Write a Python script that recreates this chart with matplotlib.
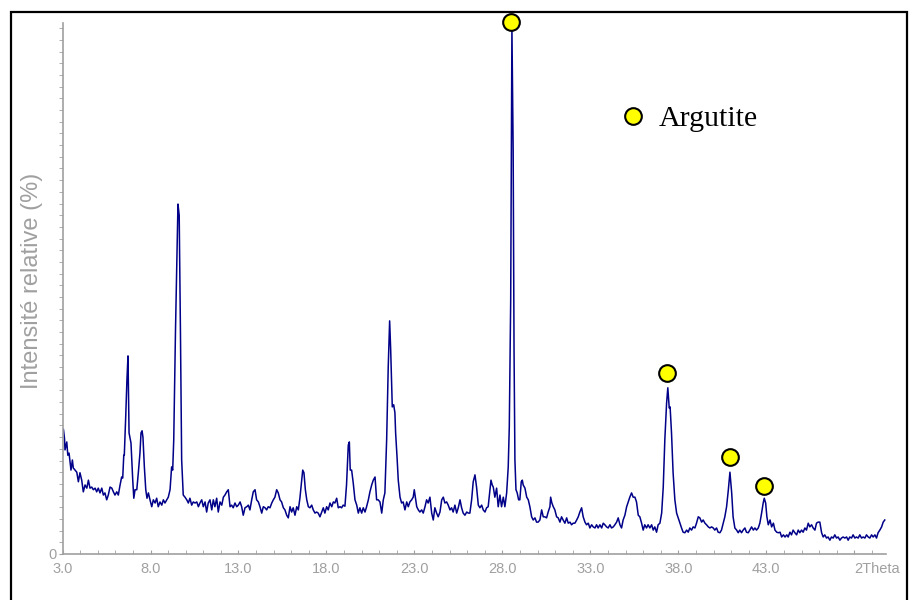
import numpy as np
import matplotlib
matplotlib.use("Agg")
import matplotlib.pyplot as plt
from matplotlib.lines import Line2D
from matplotlib.patches import Rectangle
from matplotlib.ticker import MultipleLocator

# diffractogram: 2theta (deg) / relative intensity (%)
two_theta = [
    3.00, 3.05, 3.11, 3.14, 3.24, 3.30, 3.37, 3.48, 3.56, 3.61, 3.71, 3.81, 3.90, 3.99, 4.09, 4.18,
    4.28, 4.38, 4.47, 4.56, 4.66, 4.75, 4.85, 4.94, 5.03, 5.13, 5.23, 5.32, 5.41, 5.51, 5.60, 5.70,
    5.80, 5.89, 5.98, 6.08, 6.17, 6.27, 6.36, 6.42, 6.48, 6.51, 6.59, 6.66, 6.72, 6.78, 6.89, 6.99,
    7.05, 7.12, 7.22, 7.31, 7.40, 7.46, 7.52, 7.57, 7.65, 7.73, 7.80, 7.88, 7.97, 8.07, 8.16, 8.26,
    8.35, 8.44, 8.54, 8.64, 8.73, 8.82, 8.92, 9.01, 9.11, 9.20, 9.26, 9.32, 9.42, 9.56, 9.63, 9.70,
    9.77, 9.86, 9.96, 10.06, 10.15, 10.24, 10.34, 10.43, 10.53, 10.63, 10.72, 10.81, 10.91, 11.00,
    11.10, 11.19, 11.28, 11.38, 11.48, 11.57, 11.66, 11.76, 11.85, 11.95, 12.05, 12.14, 12.23, 12.33,
    12.42, 12.52, 12.61, 12.70, 12.80, 12.90, 12.99, 13.09, 13.18, 13.27, 13.37, 13.47, 13.56, 13.65,
    13.75, 13.84, 13.94, 14.03, 14.13, 14.22, 14.32, 14.41, 14.51, 14.60, 14.69, 14.79, 14.89, 14.98,
    15.07, 15.17, 15.26, 15.36, 15.45, 15.55, 15.64, 15.74, 15.83, 15.93, 16.02, 16.11, 16.21, 16.31,
    16.40, 16.49, 16.59, 16.65, 16.72, 16.80, 16.88, 16.97, 17.06, 17.16, 17.25, 17.35, 17.44, 17.53,
    17.63, 17.73, 17.82, 17.91, 18.01, 18.10, 18.20, 18.30, 18.39, 18.48, 18.58, 18.67, 18.77, 18.86,
    18.95, 19.05, 19.14, 19.24, 19.30, 19.35, 19.43, 19.52, 19.62, 19.72, 19.81, 19.90, 20.00, 20.09,
    20.19, 20.28, 20.38, 20.47, 20.57, 20.66, 20.76, 20.85, 20.94, 21.04, 21.14, 21.23, 21.32, 21.42,
    21.51, 21.59, 21.65, 21.74, 21.82, 21.89, 21.93, 22.01, 22.08, 22.18, 22.27, 22.36, 22.46, 22.56,
    22.65, 22.74, 22.84, 22.93, 22.99, 23.07, 23.13, 23.22, 23.31, 23.41, 23.50, 23.60, 23.69, 23.78,
    23.88, 23.98, 24.07, 24.16, 24.26, 24.35, 24.45, 24.55, 24.64, 24.73, 24.83, 24.92, 25.02, 25.11,
    25.20, 25.30, 25.40, 25.49, 25.59, 25.68, 25.77, 25.87, 25.97, 26.06, 26.15, 26.25, 26.34, 26.44,
    26.53, 26.63, 26.72, 26.82, 26.91, 27.01, 27.10, 27.19, 27.29, 27.35, 27.42, 27.48, 27.57, 27.67,
    27.76, 27.86, 27.95, 28.05, 28.14, 28.24, 28.33, 28.39, 28.47, 28.54, 28.61, 28.66, 28.71, 28.77,
    28.84, 28.92, 28.99, 29.07, 29.13, 29.18, 29.28, 29.38, 29.47, 29.56, 29.66, 29.75, 29.85, 29.94,
    30.03, 30.13, 30.23, 30.32, 30.41, 30.51, 30.60, 30.70, 30.74, 30.81, 30.89, 30.98, 31.08, 31.17,
    31.27, 31.36, 31.45, 31.55, 31.65, 31.74, 31.84, 31.93, 32.02, 32.12, 32.22, 32.31, 32.40, 32.50,
    32.59, 32.69, 32.78, 32.88, 32.97, 33.07, 33.16, 33.26, 33.35, 33.44, 33.54, 33.64, 33.73, 33.82,
    33.92, 34.01, 34.11, 34.20, 34.30, 34.39, 34.49, 34.58, 34.68, 34.77, 34.86, 34.96, 35.06, 35.15,
    35.24, 35.34, 35.43, 35.53, 35.62, 35.72, 35.81, 35.91, 36.00, 36.09, 36.19, 36.28, 36.38, 36.48,
    36.57, 36.66, 36.76, 36.85, 36.95, 37.05, 37.14, 37.23, 37.33, 37.40, 37.48, 37.53, 37.61, 37.70,
    37.80, 37.90, 37.99, 38.09, 38.18, 38.27, 38.37, 38.47, 38.56, 38.65, 38.75, 38.84, 38.94, 39.03,
    39.13, 39.22, 39.32, 39.41, 39.51, 39.60, 39.70, 39.79, 39.89, 39.98, 40.07, 40.17, 40.26, 40.36,
    40.45, 40.55, 40.64, 40.74, 40.84, 40.93, 41.03, 41.11, 41.21, 41.31, 41.40, 41.49, 41.59, 41.68,
    41.78, 41.87, 41.97, 42.06, 42.16, 42.26, 42.35, 42.44, 42.54, 42.63, 42.73, 42.82, 42.88, 42.96,
    43.03, 43.11, 43.21, 43.30, 43.40, 43.49, 43.59, 43.68, 43.78, 43.87, 43.97, 44.06, 44.16, 44.24,
    44.34, 44.43, 44.52, 44.62, 44.72, 44.81, 44.90, 45.00, 45.09, 45.19, 45.28, 45.38, 45.47, 45.57,
    45.66, 45.76, 45.85, 45.94, 46.04, 46.14, 46.23, 46.32, 46.42, 46.51, 46.61, 46.70, 46.80, 46.89,
    46.99, 47.08, 47.18, 47.27, 47.36, 47.46, 47.56, 47.65, 47.74, 47.84, 47.93, 48.03, 48.12, 48.22,
    48.31, 48.41, 48.50, 48.60, 48.69, 48.79, 48.88, 48.98, 49.07, 49.17, 49.26, 49.35, 49.45, 49.55,
    49.64, 49.73,
]
intensity = [
    23.4, 23.5, 21.8, 19.6, 21.1, 18.6, 19.0, 15.8, 17.7, 16.2, 15.8, 15.4, 13.6, 15.3, 13.9, 11.7,
    13.0, 12.4, 13.9, 12.4, 12.6, 12.1, 12.4, 11.7, 12.4, 11.5, 12.4, 11.1, 11.5, 10.2, 11.1, 12.6,
    12.4, 11.7, 11.1, 11.7, 11.1, 13.0, 14.5, 14.3, 18.6, 18.6, 25.8, 32.8, 37.3, 22.8, 20.9, 13.9,
    10.5, 12.1, 12.1, 15.4, 19.0, 22.8, 23.2, 22.0, 16.4, 12.1, 10.5, 11.5, 10.2, 8.9, 10.2, 9.6,
    10.5, 8.9, 9.8, 9.2, 10.2, 9.6, 10.2, 10.7, 12.1, 16.4, 15.8, 21.5, 42.2, 65.9, 63.8, 42.2,
    17.7, 11.1, 10.7, 10.2, 9.6, 10.5, 9.2, 9.8, 9.6, 9.8, 8.9, 9.6, 10.2, 8.9,
    9.8, 7.9, 9.6, 10.2, 8.3, 10.2, 8.9, 10.5, 7.9, 9.8, 9.2, 10.7, 11.1, 11.7,
    12.1, 8.9, 9.2, 8.7, 9.6, 8.9, 9.2, 9.8, 8.9, 7.3, 8.7, 8.9, 9.2, 8.3,
    10.2, 11.7, 12.1, 10.2, 9.8, 8.9, 7.7, 8.9, 8.7, 8.3, 8.9, 8.7, 9.6, 10.2,
    10.7, 12.1, 11.5, 10.2, 9.8, 8.7, 8.3, 7.3, 6.8, 8.9, 7.9, 8.7, 7.3, 8.9,
    8.3, 10.5, 13.9, 15.8, 15.3, 12.1, 10.2, 8.9, 8.7, 9.2, 8.3, 7.7, 7.9, 7.7,
    7.0, 7.9, 8.7, 7.7, 8.9, 8.3, 9.6, 8.9, 9.8, 9.6, 10.5, 8.7, 8.9, 8.7,
    9.2, 9.0, 13.0, 20.5, 21.1, 15.8, 15.8, 13.4, 10.2, 9.2, 7.7, 8.7, 7.7, 8.7,
    7.9, 8.9, 10.2, 11.7, 13.0, 13.9, 14.5, 10.2, 10.2, 9.8, 7.7, 10.2, 11.5, 21.5,
    35.2, 43.9, 38.4, 27.7, 28.1, 26.6, 22.8, 18.3, 13.9, 10.7, 9.6, 9.8, 8.3, 9.8,
    8.9, 9.8, 10.2, 10.7, 12.1, 10.2, 8.9, 8.3, 7.9, 8.3, 7.7, 8.9, 10.2, 9.6,
    10.7, 7.7, 6.4, 8.7, 7.7, 7.0, 7.9, 10.2, 10.7, 9.6, 9.8, 9.2, 8.3, 8.7,
    7.9, 9.2, 7.7, 8.7, 10.2, 8.7, 7.7, 7.3, 7.9, 7.7, 7.7, 10.2, 13.6, 14.9,
    12.6, 9.2, 8.7, 9.2, 8.3, 7.9, 8.7, 8.9, 12.1, 13.9, 13.0, 12.6, 10.7, 12.4,
    8.9, 11.1, 8.9, 10.7, 8.9, 11.5, 16.4, 23.9, 47.8, 99.1, 76.1, 38.4, 17.7, 12.1,
    11.5, 10.2, 10.2, 13.6, 13.9, 13.0, 12.4, 10.7, 10.2, 8.9, 7.0, 6.4, 6.8, 6.0,
    6.0, 6.4, 8.3, 7.0, 7.0, 6.8, 7.9, 8.9, 10.7, 9.6, 8.9, 8.3, 7.0, 6.8,
    6.0, 7.0, 6.4, 5.8, 6.8, 5.8, 6.0, 5.5, 5.8, 5.8, 6.4, 7.0, 7.9, 8.7,
    7.0, 6.0, 5.5, 5.8, 4.9, 5.5, 5.1, 4.9, 5.5, 4.9, 5.5, 4.9, 5.8, 5.5,
    5.1, 4.9, 5.5, 4.9, 5.1, 5.5, 6.0, 6.8, 5.5, 4.9, 6.4, 7.3, 8.9, 9.8,
    10.7, 11.5, 10.7, 10.7, 9.8, 7.3, 7.0, 5.8, 4.5, 5.5, 4.9, 5.5, 4.9, 5.5,
    4.5, 5.1, 4.1, 5.5, 5.8, 7.7, 12.6, 21.5, 28.4, 31.3, 27.5, 27.7, 22.8, 15.3,
    10.2, 7.7, 6.8, 5.8, 4.9, 4.1, 4.0, 4.5, 4.1, 4.9, 4.5, 5.1, 4.9, 5.8,
    7.0, 6.8, 6.0, 6.4, 5.8, 5.5, 5.1, 4.9, 5.1, 4.9, 4.5, 4.9, 4.1, 4.0,
    4.5, 5.8, 7.0, 8.9, 12.1, 15.4, 11.5, 7.0, 4.9, 4.5, 4.0, 4.5, 4.0, 4.5,
    4.9, 4.1, 4.0, 4.5, 5.1, 4.5, 4.9, 4.5, 4.9, 5.8, 7.7, 9.6, 10.5, 9.6,
    7.0, 5.5, 6.4, 5.1, 5.8, 4.5, 4.1, 4.0, 4.1, 3.2, 3.6, 3.2, 3.6, 3.2,
    4.1, 3.6, 4.5, 4.0, 3.6, 4.5, 4.0, 4.5, 4.1, 4.9, 4.5, 5.8, 5.1, 5.5,
    4.9, 4.5, 5.8, 6.0, 6.0, 4.0, 3.2, 3.6, 3.0, 3.2, 2.6, 3.2, 3.0, 3.6,
    3.0, 3.2, 2.6, 3.0, 3.2, 3.0, 3.2, 2.6, 3.2, 3.0, 3.6, 3.0, 3.2, 3.0,
    3.6, 3.0, 3.2, 3.0, 3.6, 3.2, 3.0, 3.6, 3.2, 3.6, 3.0, 4.0, 4.5, 5.1,
    6.0, 6.4,
]

# argutite reflections (marker positions)
arg_theta = [28.48, 37.36, 40.93, 42.86]
arg_int = [100.2, 34.1, 18.3, 12.8]

tick_pos = [3, 8, 13, 18, 23, 28, 33, 38, 43, 48]
tick_lab = ["3.0", "8.0", "13.0", "18.0", "23.0", "28.0", "33.0", "38.0", "43.0", "2Theta"]

grey = "#a0a0a0"

fig = plt.figure(figsize=(9.09, 6.0), dpi=100)
ax = fig.add_axes([0.0688, 0.0767, 0.9059, 0.885])

ax.plot(two_theta, intensity, color="#000088", lw=1.1)
ax.plot(arg_theta, arg_int, ls="none", marker="o", ms=12, mfc="#ffff00",
        mec="black", mew=1.5, clip_on=False, zorder=5)

ax.set_xlim(3, 49.8)
ax.set_ylim(0, 100)

for s in ["top", "right"]:
    ax.spines[s].set_visible(False)
for s in ["left", "bottom"]:
    ax.spines[s].set_color(grey)
    ax.spines[s].set_linewidth(1.2)

ax.set_xticks(tick_pos)
ax.set_xticklabels(tick_lab)
ax.xaxis.set_minor_locator(MultipleLocator(1))
ax.get_xticklabels()[-1].set_horizontalalignment("left")
ax.tick_params(axis="x", which="both", direction="in", length=3, color=grey,
               labelcolor=grey, labelsize=10.5, pad=6)

ax.set_yticks([0])
ax.set_yticklabels(["0"])
ax.yaxis.set_minor_locator(MultipleLocator(2.2))
ax.tick_params(axis="y", which="both", direction="out", length=3, color=grey,
               labelcolor=grey, labelsize=10.5, pad=1)
ax.get_yticklabels()[0].set_verticalalignment("center_baseline")

for lab in ax.get_xticklabels() + ax.get_yticklabels():
    lab.set_fontfamily("Liberation Sans")

ax.set_ylabel("Intensité relative (%)", color=grey, fontsize=17,
              fontfamily="Liberation Sans")
ax.yaxis.set_label_coords(-0.024, 0.515)

h = Line2D([], [], ls="none", marker="o", ms=12, mfc="#ffff00", mec="black", mew=1.5)
ax.legend([h], ["Argutite"], loc="center left", bbox_to_anchor=(0.675, 0.82),
          frameon=False, handlelength=1, handletextpad=0.36, borderpad=0,
          borderaxespad=0, prop={"family": "Liberation Serif", "size": 21.5})

# black frame round the figure (cut at the bottom edge)
fig.add_artist(Rectangle((10.5 / 909, -0.05), 896 / 909, 1.05 - 12.5 / 600,
                         transform=fig.transFigure, fill=False,
                         edgecolor="black", lw=1.6))

fig.savefig("out.png", dpi=100)
